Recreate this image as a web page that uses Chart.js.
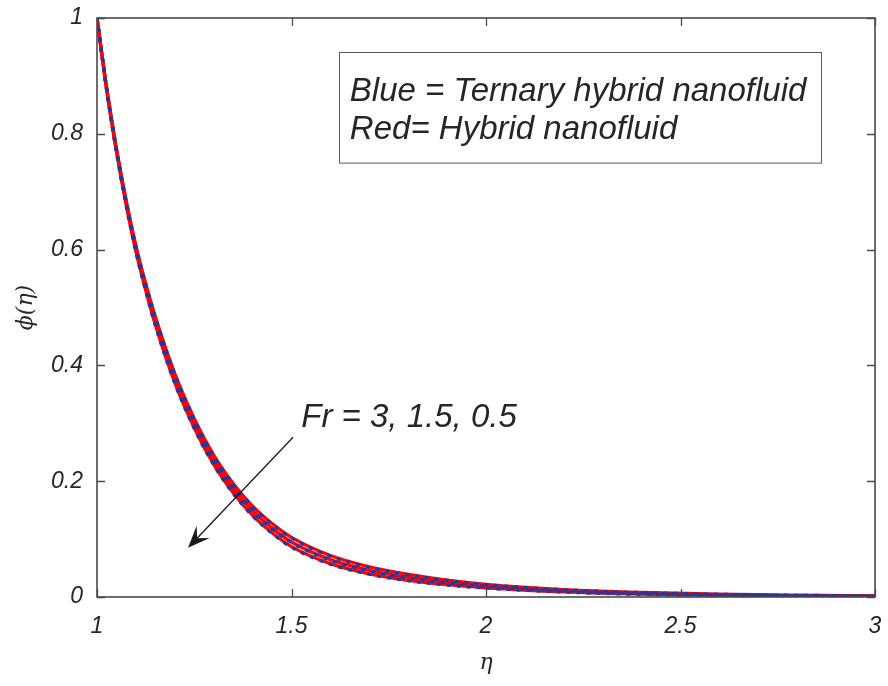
<!DOCTYPE html>
<html lang="en">
<head>
    <meta charset="UTF-8">
    <title>Concentration profile phi(eta)</title>
    <script src="https://cdn.jsdelivr.net/npm/chart.js"></script>
    <style>
        html, body {
            margin: 0;
            padding: 0;
            background: #ffffff;
        }
        #wrap {
            width: 888px;
            height: 686px;
        }
    </style>
</head>
<body>
    <div id="wrap"><canvas id="phiChart" width="888" height="686"></canvas></div>

    <script>
        // eta grid and phi(eta) values
        const eta = [1, 1.025, 1.05, 1.075, 1.1, 1.125, 1.15, 1.2, 1.25, 1.3, 1.35, 1.4, 1.45, 1.5,
                     1.6, 1.7, 1.8, 1.9, 2.0, 2.2, 2.4, 2.6, 2.8, 3.0];

        // Blue = ternary hybrid nanofluid
        const ternaryFr3  = [1.000, 0.878, 0.774, 0.684, 0.606, 0.541, 0.483, 0.385, 0.307, 0.244, 0.195, 0.156, 0.126, 0.102,
                             0.0706, 0.0513, 0.0382, 0.0286, 0.0214, 0.0125, 0.0076, 0.0046, 0.0029, 0.0019];
        const ternaryFr15 = [1.000, 0.876, 0.771, 0.680, 0.601, 0.535, 0.476, 0.377, 0.299, 0.236, 0.187, 0.148, 0.118, 0.094,
                             0.0636, 0.0453, 0.0332, 0.0246, 0.0184, 0.0105, 0.0061, 0.0036, 0.0022, 0.0014];
        const ternaryFr05 = [1.000, 0.874, 0.768, 0.676, 0.596, 0.529, 0.469, 0.369, 0.291, 0.228, 0.179, 0.140, 0.110, 0.086,
                             0.0566, 0.0393, 0.0282, 0.0206, 0.0154, 0.0085, 0.0046, 0.0026, 0.0015, 0.0009];

        // Red = hybrid nanofluid
        const hybridFr3  = [1.000, 0.879, 0.775, 0.685, 0.607, 0.542, 0.484, 0.386, 0.308, 0.245, 0.196, 0.157, 0.127, 0.103,
                            0.0716, 0.0521, 0.0389, 0.0292, 0.0219, 0.0129, 0.0079, 0.0048, 0.0031, 0.0020];
        const hybridFr15 = [1.000, 0.877, 0.772, 0.681, 0.602, 0.536, 0.477, 0.378, 0.300, 0.237, 0.188, 0.149, 0.119, 0.095,
                            0.0646, 0.0461, 0.0339, 0.0252, 0.0189, 0.0109, 0.0064, 0.0038, 0.0024, 0.0015];
        const hybridFr05 = [1.000, 0.875, 0.769, 0.677, 0.597, 0.530, 0.470, 0.370, 0.292, 0.229, 0.180, 0.141, 0.111, 0.087,
                            0.0576, 0.0401, 0.0289, 0.0212, 0.0159, 0.0089, 0.0049, 0.0028, 0.0017, 0.0010];

        const xTicks = [1, 1.5, 2, 2.5, 3];
        const yTicks = [0, 0.2, 0.4, 0.6, 0.8, 1];

        const legendLines = ['Blue = Ternary hybrid nanofluid', 'Red= Hybrid nanofluid'];
        const frLabel = 'Fr = 3, 1.5, 0.5';

        const FONT = '"Liberation Sans", Arial, sans-serif';
        const TEXT = '#262626';
        const BLUE = '#1a3aa8';
        const RED = '#ff0000';

        function toPoints(ys) {
            return eta.map((x, i) => ({ x: x, y: ys[i] }));
        }

        function redLine(label, ys) {
            return {
                label: label, data: toPoints(ys), borderColor: RED, borderWidth: 3.3,
                pointRadius: 0, fill: false, cubicInterpolationMode: 'monotone', order: 2
            };
        }
        function blueLine(label, ys) {
            return {
                label: label, data: toPoints(ys), borderColor: BLUE, borderWidth: 3.3, borderDash: [4, 6],
                pointRadius: 0, fill: false, cubicInterpolationMode: 'monotone', order: 1
            };
        }

        // box, inward ticks, text box, Fr annotation and arrow
        const decorations = {
            id: 'decorations',
            afterDatasetsDraw(chart) {
                const ctx = chart.ctx;
                const xs = chart.scales.x, ys = chart.scales.y;
                const a = chart.chartArea;
                ctx.save();

                // inward ticks on all four sides
                ctx.strokeStyle = '#4a4a4a';
                ctx.lineWidth = 1.3;
                ctx.beginPath();
                xTicks.forEach(v => {
                    const px = Math.round(xs.getPixelForValue(v)) + 0.5;
                    ctx.moveTo(px, a.bottom); ctx.lineTo(px, a.bottom - 8);
                    ctx.moveTo(px, a.top); ctx.lineTo(px, a.top + 8);
                });
                yTicks.forEach(v => {
                    const py = Math.round(ys.getPixelForValue(v)) + 0.5;
                    ctx.moveTo(a.left, py); ctx.lineTo(a.left + 8, py);
                    ctx.moveTo(a.right, py); ctx.lineTo(a.right - 8, py);
                });
                ctx.stroke();

                // axes box
                ctx.lineWidth = 1.6;
                ctx.strokeRect(a.left, a.top, a.right - a.left, a.bottom - a.top);

                // text box
                const bx0 = xs.getPixelForValue(1.621), bx1 = xs.getPixelForValue(2.860);
                const by0 = ys.getPixelForValue(0.942), by1 = ys.getPixelForValue(0.751);
                ctx.fillStyle = '#ffffff';
                ctx.fillRect(bx0, by0, bx1 - bx0, by1 - by0);
                ctx.strokeStyle = '#595959';
                ctx.lineWidth = 1;
                ctx.strokeRect(Math.round(bx0) + 0.5, Math.round(by0) + 0.5, bx1 - bx0, by1 - by0);

                ctx.fillStyle = TEXT;
                ctx.font = 'italic 33px ' + FONT;
                ctx.textAlign = 'left';
                ctx.textBaseline = 'middle';
                ctx.fillText(legendLines[0], xs.getPixelForValue(1.65), ys.getPixelForValue(0.873));
                ctx.fillText(legendLines[1], xs.getPixelForValue(1.65), ys.getPixelForValue(0.807));

                // Fr label
                ctx.fillText(frLabel, xs.getPixelForValue(1.525), ys.getPixelForValue(0.31));

                // arrow
                const x0 = xs.getPixelForValue(1.504), y0 = ys.getPixelForValue(0.276);
                const x1 = xs.getPixelForValue(1.234), y1 = ys.getPixelForValue(0.085);
                const ang = Math.atan2(y1 - y0, x1 - x0);
                const L = 22, W = 9;
                ctx.strokeStyle = '#1a1a1a';
                ctx.lineWidth = 1.3;
                ctx.beginPath();
                ctx.moveTo(x0, y0);
                ctx.lineTo(x1 - Math.cos(ang) * 10, y1 - Math.sin(ang) * 10);
                ctx.stroke();
                ctx.fillStyle = '#1a1a1a';
                ctx.beginPath();
                ctx.moveTo(x1, y1);
                ctx.lineTo(x1 - Math.cos(ang) * L - Math.sin(ang) * W, y1 - Math.sin(ang) * L + Math.cos(ang) * W);
                ctx.lineTo(x1 - Math.cos(ang) * L * 0.6, y1 - Math.sin(ang) * L * 0.6);
                ctx.lineTo(x1 - Math.cos(ang) * L + Math.sin(ang) * W, y1 - Math.sin(ang) * L - Math.cos(ang) * W);
                ctx.closePath();
                ctx.fill();

                ctx.restore();
            }
        };

        new Chart(document.getElementById('phiChart'), {
            type: 'line',
            data: {
                datasets: [
                    blueLine('Ternary Fr=3', ternaryFr3),
                    blueLine('Ternary Fr=1.5', ternaryFr15),
                    blueLine('Ternary Fr=0.5', ternaryFr05),
                    redLine('Hybrid Fr=3', hybridFr3),
                    redLine('Hybrid Fr=1.5', hybridFr15),
                    redLine('Hybrid Fr=0.5', hybridFr05)
                ]
            },
            options: {
                responsive: false,
                animation: false,
                layout: { padding: { top: 18, right: 13, left: 0, bottom: 0 } },
                plugins: {
                    legend: { display: false },
                    tooltip: { enabled: false }
                },
                scales: {
                    x: {
                        type: 'linear',
                        min: 1, max: 3,
                        afterBuildTicks: s => { s.ticks = xTicks.map(v => ({ value: v })); },
                        afterFit: s => { s.height = 89; s.paddingLeft = 0; s.paddingRight = 0; },
                        grid: { display: false, drawTicks: false },
                        border: { display: false },
                        ticks: {
                            padding: 16, color: TEXT, maxRotation: 0,
                            callback: v => String(v),
                            font: { family: FONT, size: 23, style: 'italic' }
                        },
                        title: {
                            display: true, text: 'η', color: TEXT,
                            font: { family: '"DejaVu Serif", serif', size: 22, style: 'italic' },
                            padding: { top: 0, bottom: 10 }
                        }
                    },
                    y: {
                        type: 'linear',
                        min: 0, max: 1,
                        afterBuildTicks: s => { s.ticks = yTicks.map(v => ({ value: v })); },
                        afterFit: s => { s.width = 97; s.paddingTop = 0; s.paddingBottom = 0; },
                        grid: { display: false, drawTicks: false },
                        border: { display: false },
                        ticks: {
                            padding: 14, color: TEXT,
                            callback: v => String(v),
                            font: { family: FONT, size: 23, style: 'italic' }
                        },
                        title: {
                            display: true, text: 'ϕ(η)', color: TEXT,
                            font: { family: '"DejaVu Serif", serif', size: 22, style: 'italic' },
                            padding: { top: 13, bottom: 0 }
                        }
                    }
                }
            },
            plugins: [decorations]
        });
    </script>
</body>
</html>
